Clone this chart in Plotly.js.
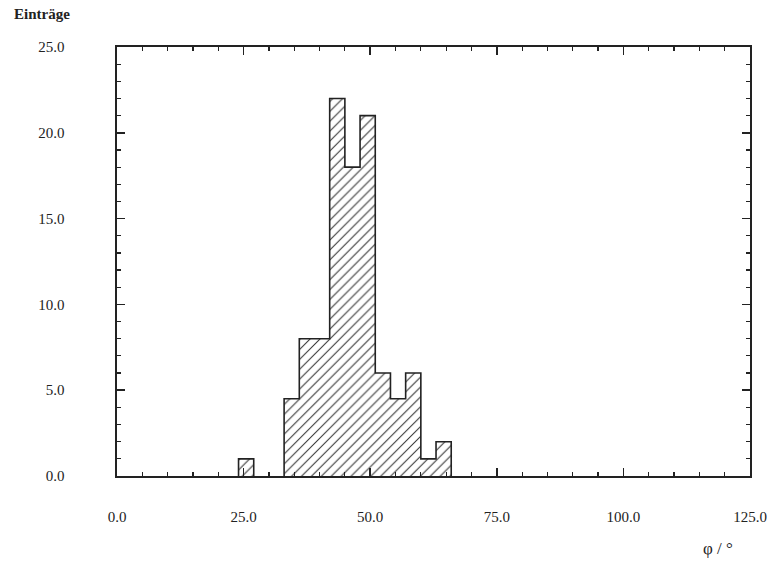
<!DOCTYPE html>
<html>
<head>
<meta charset="utf-8">
<script src="https://cdn.plot.ly/plotly-3.0.1.min.js"></script>
<style>html,body{margin:0;padding:0;background:#fff;}#chart{width:767px;height:567px;}</style>
</head>
<body>
<div id="chart"></div>
<script>
// Histogram data (phi in degrees, bin width 3)
const binStart = [24, 33, 36, 39, 42, 45, 48, 51, 54, 57, 60, 63];
const binWidth = 3;
const counts = [1, 4.5, 8, 8, 22, 18, 21, 6, 4.5, 6, 1, 2];
const xTickVals = [0, 25, 50, 75, 100, 125];
const yTickVals = [0, 5, 10, 15, 20, 25];
const yLabel = "Einträge";
const xLabel = "φ / °";

// outline of the histogram (step contour)
const ox = [], oy = [];
for (let i = 0; i < binStart.length; i++) {
  const s = binStart[i], e = s + binWidth, h = counts[i];
  const prevEnd = i > 0 ? binStart[i-1] + binWidth : null;
  if (prevEnd === null || prevEnd !== s) {
    if (i > 0) { ox.push(prevEnd); oy.push(0); ox.push(null); oy.push(null); }
    ox.push(s); oy.push(0);
  }
  ox.push(s); oy.push(h);
  ox.push(e); oy.push(h);
}
ox.push(binStart[binStart.length-1] + binWidth); oy.push(0);

const ink = '#222';
const serif = 'Liberation Serif, DejaVu Serif, serif';
const tickFont = {family: serif, size: 15, color: ink};

const traces = [
  {
    type: 'bar', x: binStart, y: counts, width: binWidth, offset: 0,
    marker: {color: '#fff', line: {width: 0},
      pattern: {shape: '/', fgcolor: '#333', bgcolor: '#fff', size: 7, solidity: 0.15}},
    hoverinfo: 'x+y', showlegend: false
  },
  {
    type: 'scatter', mode: 'lines', x: ox, y: oy,
    line: {color: ink, width: 1.6}, connectgaps: false, showlegend: false, hoverinfo: 'skip'
  }
];

const layout = {
  width: 767, height: 567,
  margin: {l: 117, r: 17, t: 47, b: 91},
  paper_bgcolor: '#fff', plot_bgcolor: '#fff',
  showlegend: false, bargap: 0,
  xaxis: {
    range: [0, 125], tickvals: xTickVals, tickformat: '.1f',
    ticks: 'inside', ticklen: 8, tickwidth: 1.5, tickcolor: ink,
    minor: {dtick: 5, tick0: 0, ticks: 'inside', ticklen: 4, tickwidth: 1.2, tickcolor: ink, showgrid: false},
    showline: true, linecolor: ink, linewidth: 1.6, mirror: 'allticks',
    showgrid: false, zeroline: false, tickfont: tickFont, ticklabelstandoff: 26
  },
  yaxis: {
    range: [0, 25], tickvals: yTickVals, tickformat: '.1f',
    ticks: 'inside', ticklen: 8, tickwidth: 1.5, tickcolor: ink,
    minor: {dtick: 1, tick0: 0, ticks: 'inside', ticklen: 4, tickwidth: 1.2, tickcolor: ink, showgrid: false},
    showline: true, linecolor: ink, linewidth: 1.6, mirror: 'allticks',
    showgrid: false, zeroline: false, tickfont: tickFont, ticklabelstandoff: 48
  },
  annotations: [
    {text: '<b>' + yLabel + '</b>', xref: 'paper', yref: 'paper', x: -0.166, y: 1.077,
     xanchor: 'left', yanchor: 'middle', showarrow: false,
     font: {family: serif, size: 15, color: ink}},
    {text: xLabel, xref: 'paper', yref: 'paper', x: 0.976, y: -0.168,
     xanchor: 'right', yanchor: 'middle', showarrow: false,
     font: {family: serif, size: 17, color: ink}}
  ]
};

Plotly.newPlot('chart', traces, layout, {displayModeBar: false, staticPlot: true});
</script>
</body>
</html>
